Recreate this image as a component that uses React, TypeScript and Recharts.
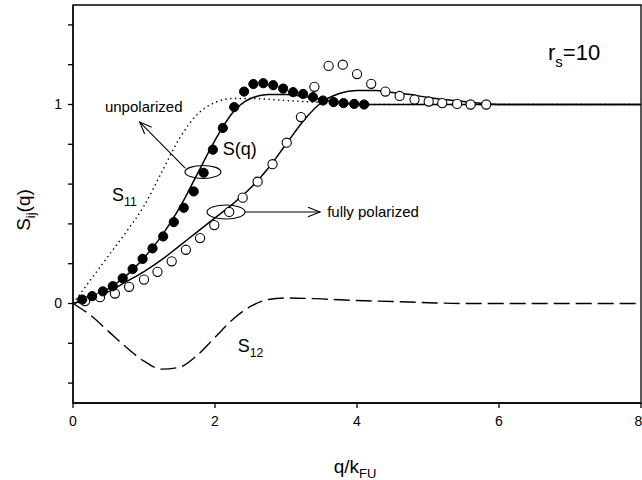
import React from 'react';
import {
  ComposedChart,
  Line,
  Scatter,
  XAxis,
  YAxis,
  ReferenceArea,
  ReferenceDot,
  ReferenceLine,
  Label,
} from 'recharts';

// simulation points, unpolarized (filled) and fully polarized (open)
const unpolQ = [0.13, 0.27, 0.42, 0.56, 0.7, 0.84, 0.98, 1.12, 1.27, 1.42, 1.56, 1.7, 1.84, 1.97, 2.11, 2.27, 2.41, 2.54, 2.68, 2.82, 2.96, 3.1, 3.24, 3.38, 3.52, 3.67, 3.81, 3.96, 4.1];
const unpolS = [0.02, 0.037, 0.061, 0.087, 0.127, 0.173, 0.224, 0.277, 0.337, 0.409, 0.481, 0.563, 0.657, 0.773, 0.882, 0.987, 1.065, 1.103, 1.107, 1.097, 1.08, 1.062, 1.053, 1.037, 1.02, 1.012, 1.007, 1.003, 1.0];
const polQ = [0.17, 0.38, 0.59, 0.79, 1.0, 1.19, 1.39, 1.59, 1.79, 1.99, 2.2, 2.39, 2.6, 2.81, 3.01, 3.21, 3.4, 3.6, 3.8, 4.0, 4.2, 4.4, 4.6, 4.81, 5.01, 5.2, 5.41, 5.6, 5.82];
const polS = [0.012, 0.032, 0.05, 0.084, 0.12, 0.159, 0.212, 0.27, 0.329, 0.394, 0.46, 0.532, 0.612, 0.7, 0.808, 0.937, 1.089, 1.194, 1.2, 1.153, 1.104, 1.065, 1.043, 1.025, 1.015, 1.007, 1.003, 1.0, 1.0];

// theory curves
const unpolLineQ = [0, 0.25, 0.5, 0.75, 1.0, 1.25, 1.5, 1.75, 2.0, 2.25, 2.5, 2.75, 3.0, 3.25, 3.5, 3.75, 4.0, 5.0, 8.0];
const unpolLineS = [0, 0.03, 0.075, 0.14, 0.23, 0.34, 0.48, 0.65, 0.82, 0.96, 1.03, 1.05, 1.05, 1.04, 1.025, 1.01, 1.0, 1.0, 1.0];
const polLineQ = [0, 0.25, 0.5, 0.75, 1.0, 1.25, 1.5, 1.75, 2.0, 2.25, 2.5, 2.75, 3.0, 3.25, 3.5, 3.75, 4.0, 4.25, 4.5, 4.75, 5.0, 5.5, 6.0, 8.0];
const polLineS = [0, 0.025, 0.06, 0.11, 0.16, 0.22, 0.29, 0.36, 0.43, 0.5, 0.58, 0.68, 0.8, 0.92, 1.01, 1.055, 1.07, 1.07, 1.06, 1.05, 1.035, 1.015, 1.0, 1.0];
const s11Q = [0, 0.25, 0.5, 0.75, 1.0, 1.25, 1.5, 1.75, 2.0, 2.25, 2.5, 3.0, 3.5, 4.0, 8.0];
const s11S = [0, 0.12, 0.24, 0.36, 0.49, 0.66, 0.83, 0.95, 1.01, 1.03, 1.03, 1.02, 1.01, 1.0, 1.0];
const s12Q = [0, 0.25, 0.5, 0.75, 1.0, 1.25, 1.5, 1.75, 2.0, 2.25, 2.5, 2.75, 3.0, 3.5, 4.0, 4.5, 5.0, 5.5, 8.0];
const s12S = [0, -0.06, -0.14, -0.22, -0.29, -0.33, -0.32, -0.26, -0.17, -0.08, -0.015, 0.02, 0.028, 0.023, 0.015, 0.01, 0.004, 0, 0];

const xTicks = [0, 2, 4, 6, 8];
const yTicks = [-0.4, -0.2, 0, 0.2, 0.4, 0.6, 0.8, 1.0, 1.2, 1.4];
const yLabelled = [0, 1];

const zip = (qs: number[], ss: number[]) => qs.map((q, i) => ({ q, s: ss[i] }));

const FONT = '"Liberation Sans", Arial, Helvetica, sans-serif';

const filledDot = (p: any) => (
  <circle cx={p.cx} cy={p.cy} r={4.6} fill="#000" stroke="#000" strokeWidth={1} />
);
const openDot = (p: any) => (
  <circle cx={p.cx} cy={p.cy} r={4.6} fill="#fff" stroke="#000" strokeWidth={1.1} />
);

const ellipse = (rx: number, ry: number) => (p: any) => (
  <ellipse cx={p.cx} cy={p.cy} rx={rx} ry={ry} fill="none" stroke="#000" strokeWidth={1.1} />
);

// arrow head at the tip, deg = direction the arrow points (screen coords)
const arrowHead = (deg: number) => (p: any) => {
  const a = (deg * Math.PI) / 180;
  const len = 13;
  const spread = 0.38;
  const x1 = p.cx - len * Math.cos(a - spread);
  const y1 = p.cy - len * Math.sin(a - spread);
  const x2 = p.cx - len * Math.cos(a + spread);
  const y2 = p.cy - len * Math.sin(a + spread);
  return (
    <path d={`M${x1},${y1} L${p.cx},${p.cy} L${x2},${y2}`} fill="none" stroke="#000" strokeWidth={1.1} />
  );
};

const textAt = (main: string, sub: string, size: number, after = '') => (p: any) => (
  <text x={p.cx} y={p.cy} fontFamily={FONT} fontSize={size} fill="#000">
    {main}
    {sub && (
      <tspan dy={size * 0.3} fontSize={size * 0.68}>
        {sub}
      </tspan>
    )}
    {after && <tspan dy={-size * 0.3}>{after}</tspan>}
  </text>
);

const XLabel = (props: any) => {
  const vb = props.viewBox;
  const cx = vb.x + vb.width / 2 - 2;
  return (
    <text x={cx} y={vb.y + 70} textAnchor="middle" fontFamily={FONT} fontSize={19} fill="#000">
      q/k
      <tspan dy={5} fontSize={13}>FU</tspan>
    </text>
  );
};

const YLabel = (props: any) => {
  const vb = props.viewBox;
  const cx = 30;
  const cy = vb.y + vb.height / 2 + 6;
  return (
    <text
      x={cx}
      y={cy}
      textAnchor="middle"
      transform={`rotate(-90, ${cx}, ${cy})`}
      fontFamily={FONT}
      fontSize={19}
      fill="#000"
    >
      S
      <tspan dy={5} fontSize={13}>ij</tspan>
      <tspan dy={-5}>(q)</tspan>
    </text>
  );
};

export default function App() {
  const tick = { fontSize: 14, fill: '#000', fontFamily: FONT };
  return (
    <div style={{ position: 'absolute', left: 0, top: 0, background: '#fff' }}>
      <ComposedChart width={642} height={480} margin={{ top: 5, right: 1, bottom: 0, left: 0 }}>
        <XAxis
          type="number"
          dataKey="q"
          domain={[0, 8]}
          ticks={xTicks}
          height={77}
          allowDataOverflow
          stroke="#000"
          strokeWidth={1.3}
          tickSize={5}
          tick={tick}
          tickMargin={8}
        >
          <Label content={XLabel} />
        </XAxis>
        <YAxis
          type="number"
          dataKey="s"
          domain={[-0.5, 1.5]}
          ticks={yTicks}
          width={73}
          allowDataOverflow
          stroke="#000"
          strokeWidth={1.3}
          tickSize={5}
          tick={tick}
          tickMargin={6}
          tickFormatter={(v: number) => (yLabelled.some((l) => Math.abs(l - v) < 1e-6) ? String(Math.round(v)) : '')}
        >
          <Label content={YLabel} />
        </YAxis>
        <ReferenceArea x1={0} x2={8} y1={-0.5} y2={1.5} fill="none" stroke="#000" strokeWidth={1.3} />

        <Line data={zip(s12Q, s12S)} dataKey="s" type="monotone" stroke="#000" strokeWidth={1.4} strokeDasharray="16 6" dot={false} isAnimationActive={false} />
        <Line data={zip(s11Q, s11S)} dataKey="s" type="monotone" stroke="#000" strokeWidth={1.4} strokeDasharray="1.4 3.4" dot={false} isAnimationActive={false} />
        <Line data={zip(polLineQ, polLineS)} dataKey="s" type="monotone" stroke="#000" strokeWidth={1.5} dot={false} isAnimationActive={false} />
        <Line data={zip(unpolLineQ, unpolLineS)} dataKey="s" type="monotone" stroke="#000" strokeWidth={1.5} dot={false} isAnimationActive={false} />

        <Scatter data={zip(polQ, polS)} dataKey="s" shape={openDot} isAnimationActive={false} />
        <Scatter data={zip(unpolQ, unpolS)} dataKey="s" shape={filledDot} isAnimationActive={false} />

        {/* annotations */}
        <ReferenceDot x={1.83} y={0.661} r={0} shape={ellipse(18, 6.5)} />
        <ReferenceLine segment={[{ x: 1.58, y: 0.68 }, { x: 0.94, y: 0.912 }]} stroke="#000" strokeWidth={1.1} />
        <ReferenceDot x={0.94} y={0.912} r={0} shape={arrowHead(-134)} />
        <ReferenceDot x={0.45} y={0.962} r={0} shape={textAt('unpolarized', '', 15)} />
        <ReferenceDot x={2.11} y={0.746} r={0} shape={textAt('S(q)', '', 18)} />
        <ReferenceDot x={0.55} y={0.515} r={0} shape={textAt('S', '11', 18)} />

        <ReferenceDot x={2.155} y={0.46} r={0} shape={ellipse(19, 7)} />
        <ReferenceLine segment={[{ x: 2.42, y: 0.46 }, { x: 3.48, y: 0.46 }]} stroke="#000" strokeWidth={1.1} />
        <ReferenceDot x={3.48} y={0.46} r={0} shape={arrowHead(0)} />
        <ReferenceDot x={3.58} y={0.435} r={0} shape={textAt('fully polarized', '', 15)} />

        <ReferenceDot x={2.32} y={-0.243} r={0} shape={textAt('S', '12', 18)} />
        <ReferenceDot x={6.69} y={1.224} r={0} shape={textAt('r', 's', 22, '=10')} />
      </ComposedChart>
    </div>
  );
}
